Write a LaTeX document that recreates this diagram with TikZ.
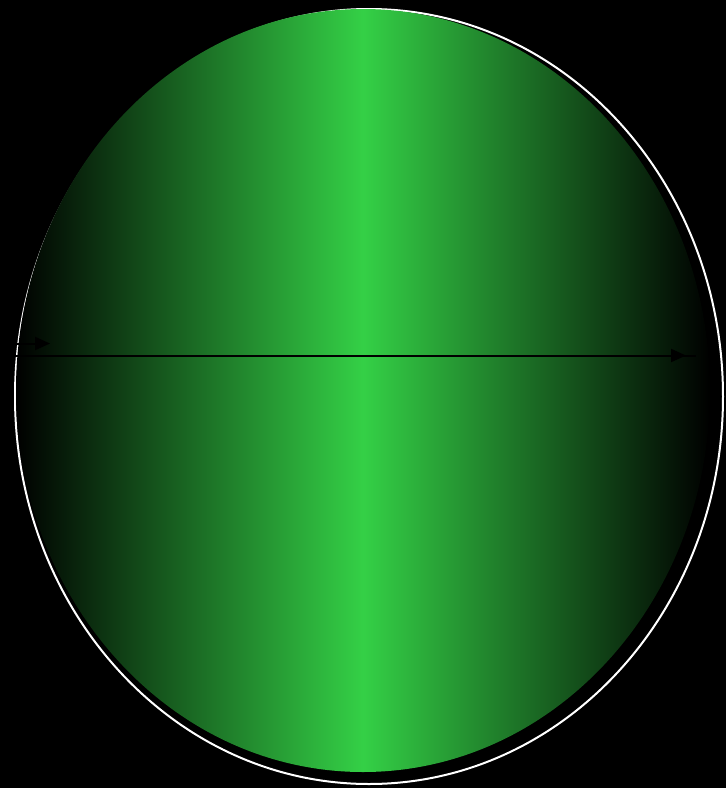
\documentclass[tikz,border=0pt]{standalone}
\usetikzlibrary{arrows.meta}
\definecolor{ballgreen}{RGB}{52,208,70}
\begin{document}
\begin{tikzpicture}[x=1pt,y=-1pt,
  outline/.style={draw=white,line width=2pt},
  ball/.style={left color=black,right color=black,middle color=ballgreen},
  arr/.style={draw=black,line width=2pt,-{Triangle[length=15pt,width=13pt]}}]
\fill[black] (0,0) rectangle (726,788);
\useasboundingbox (0,0) rectangle (726,788);
\draw[outline] (369,396.5) ellipse [x radius=354,y radius=387.5];
\shade[ball] (363,390.5) ellipse [x radius=347,y radius=381.5];
\coordinate (s1) at (15,343.5);
\coordinate (e1) at (50,343.5);
\coordinate (s2) at (15,355.5);
\coordinate (e2) at (686,355.5);
\coordinate (t2) at (696,355.5);
\draw[draw=black,line width=2pt] (s2) -- (t2);
\draw[arr] (s1) -- (e1);
\draw[arr] (s2) -- (e2);
\end{tikzpicture}
\end{document}
